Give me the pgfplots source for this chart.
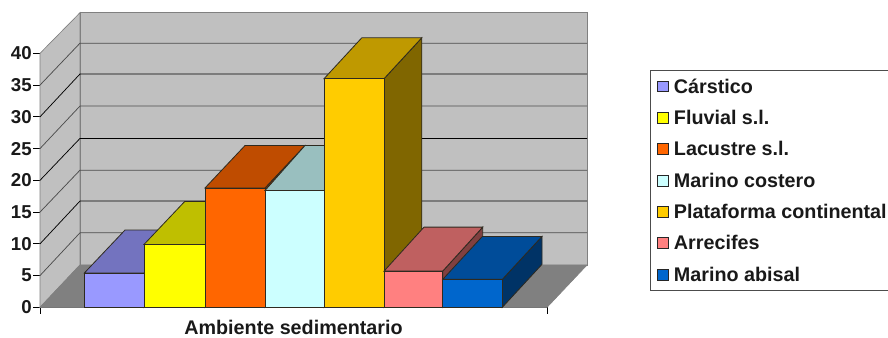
\documentclass[border=0pt]{standalone}
\usepackage{pgfplots}
\pgfplotsset{compat=1.18}
\usepackage{fontspec}
\setmainfont{Liberation Sans}
\definecolor{wall}{HTML}{C0C0C0}
\definecolor{floorc}{HTML}{808080}
\definecolor{edgec}{HTML}{2E2A20}
\definecolor{carF}{HTML}{9999FF}\definecolor{carT}{HTML}{7373BF}\definecolor{carS}{HTML}{4D4D80}
\definecolor{fluF}{HTML}{FFFF00}\definecolor{fluT}{HTML}{BFBF00}\definecolor{fluS}{HTML}{808000}
\definecolor{lacF}{HTML}{FF6600}\definecolor{lacT}{HTML}{BF4C00}\definecolor{lacS}{HTML}{803300}
\definecolor{cosF}{HTML}{CCFFFF}\definecolor{cosT}{HTML}{99BFBF}\definecolor{cosS}{HTML}{668080}
\definecolor{plaF}{HTML}{FFCC00}\definecolor{plaT}{HTML}{BF9900}\definecolor{plaS}{HTML}{806600}
\definecolor{arrF}{HTML}{FF8080}\definecolor{arrT}{HTML}{BF6060}\definecolor{arrS}{HTML}{804040}
\definecolor{abiF}{HTML}{0066CC}\definecolor{abiT}{HTML}{004C99}\definecolor{abiS}{HTML}{003366}
% One cuboid: x0, x1, value, depth in x, depth in value units, front, top, side colours
\newcommand{\cuboid}[8]{%
  \pgfmathsetmacro{\xa}{#1+#4}%
  \pgfmathsetmacro{\xb}{#2+#4}%
  \pgfmathsetmacro{\yt}{#3+#5}%
  \pgfmathsetmacro{\yb}{#5}%
  \addplot[forget plot,fill=#8,draw=edgec,line width=0.6pt] coordinates {(#2,0) (\xb,\yb) (\xb,\yt) (#2,#3)} --cycle;
  \addplot[forget plot,fill=#7,draw=edgec,line width=0.6pt] coordinates {(#1,#3) (\xa,\yt) (\xb,\yt) (#2,#3)} --cycle;
  \addplot[forget plot,fill=#6,draw=edgec,line width=0.6pt] coordinates {(#1,0) (#1,#3) (#2,#3) (#2,0)} --cycle;
}
% One wall gridline: front value, back value, colour
\newcommand{\gridrow}[3]{%
  \addplot[forget plot,draw=#3,line width=0.55pt] coordinates {(40,#1) (80,#2) (587,#2)};
}
\begin{document}
\begin{tikzpicture}
\path[use as bounding box,clip] (0,0) rectangle (666pt,253.5pt);
\begin{axis}[
  at={(30pt,23pt)},anchor=south west,
  scale only axis,width=380.25pt,height=190.5pt,
  xmin=40,xmax=547,ymin=0,ymax=40,
  clip=false,no marks,
  axis x line*=bottom,axis y line*=left,
  axis line style={-,draw=black!65,line width=0.5pt},
  tick align=outside,major tick length=5pt,
  tick style={draw=black,line width=0.5pt},
  xtick={40,547},xticklabels={,},
  ytick={0,5,10,15,20,25,30,35,40},
  /pgf/number format/assume math mode=true,
  tick label style={font=\fontsize{14}{16}\selectfont\bfseries,text=black!90},
  yticklabel style={inner xsep=1pt},
  xlabel={Ambiente sedimentario},
  xlabel style={at={(axis cs:293.5,-3.2)},anchor=center,font=\fontsize{14.8}{16}\selectfont\bfseries,text=black!90},
  legend image code/.code={\path[fill=none,draw=none] (0pt,-4.1pt) rectangle (12.75pt,4.1pt);\draw[#1] (0pt,-4.1pt) rectangle (8.25pt,4.1pt);},
  legend cell align=left,
  legend style={at={(axis cs:649.5,37.37)},anchor=north west,draw=black!70,line width=0.6pt,
    fill=white,row sep=9.5pt,inner xsep=5pt,inner ysep=5pt,
    font=\fontsize{14.8}{16}\selectfont\bfseries,text=black!90,
    nodes={text height=12pt,text depth=2pt,inner sep=0pt}},
]
% walls and floor
\addplot[forget plot,fill=wall,draw=floorc,line width=0.5pt] coordinates {(40,0) (80,6.67) (80,46.4) (40,40)} --cycle;
\addplot[forget plot,fill=wall,draw=floorc,line width=0.5pt] coordinates {(80,6.67) (80,46.4) (587,46.4) (587,6.67)} --cycle;
\addplot[forget plot,fill=floorc,draw=floorc,line width=0.5pt] coordinates {(40,0) (80,6.67) (587,6.67) (547,0)} --cycle;
% gridlines on the walls
\gridrow{5}{11.74}{black!70}
\gridrow{10}{16.74}{black}
\gridrow{15}{21.6}{black!70}
\gridrow{20}{26.6}{black}
\gridrow{25}{31.7}{black!70}
\gridrow{30}{36.75}{black}
\gridrow{35}{41.6}{black!70}
% bars, left to right
\cuboid{84.3}{144}{5.4}{40.7}{6.77}{carF}{carT}{carS}
\cuboid{144}{205}{9.9}{40.7}{6.77}{fluF}{fluT}{fluS}
\cuboid{205}{265}{18.8}{40}{6.68}{lacF}{lacT}{lacS}
\cuboid{265}{324}{18.4}{40}{7.08}{cosF}{cosT}{cosS}
\cuboid{324}{384}{36}{37.8}{6.45}{plaF}{plaT}{plaS}
\cuboid{384}{442.7}{5.7}{40}{6.93}{arrF}{arrT}{arrS}
\cuboid{442.7}{502.3}{4.4}{39.7}{6.77}{abiF}{abiT}{abiS}
% legend
\addlegendimage{fill=carF,draw=black!85}\addlegendentry{Cárstico}
\addlegendimage{fill=fluF,draw=black!85}\addlegendentry{Fluvial s.l.}
\addlegendimage{fill=lacF,draw=black!85}\addlegendentry{Lacustre s.l.}
\addlegendimage{fill=cosF,draw=black!85}\addlegendentry{Marino costero}
\addlegendimage{fill=plaF,draw=black!85}\addlegendentry{Plataforma continental}
\addlegendimage{fill=arrF,draw=black!85}\addlegendentry{Arrecifes}
\addlegendimage{fill=abiF,draw=black!85}\addlegendentry{Marino abisal}
\end{axis}
\end{tikzpicture}
\end{document}
